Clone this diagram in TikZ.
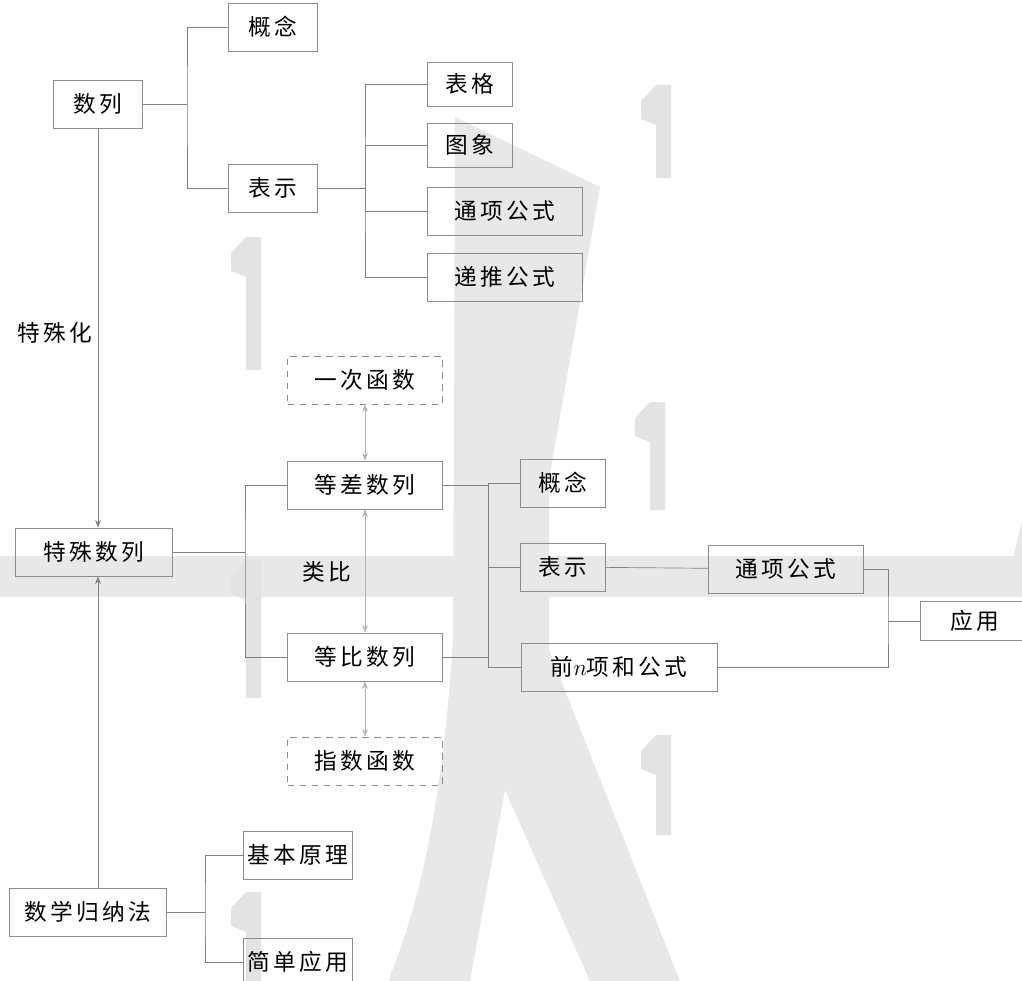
\documentclass[tikz,border=0pt]{standalone}
\usepackage{fontspec}
\newfontfamily\cjk[LetterSpace=14]{Noto Sans CJK SC}
\usetikzlibrary{arrows.meta,positioning,backgrounds}

\begin{document}
\begin{tikzpicture}[
  x=0.75pt, y=-0.75pt,
  font=\cjk\fontsize{17}{20}\selectfont,
  box/.style={
    draw=black!45,
    line width=0.5pt,
    inner sep=0pt,
    minimum width=67pt,
    minimum height=36pt
  },
  wide/.style={box, minimum width=116pt},
  fbox/.style={wide, dash pattern=on 5pt off 4pt},
  link/.style={draw=black!50, line width=0.5pt},
  into/.style={link, -{Stealth[length=2mm]}},
  both/.style={link, draw=black!30, {Stealth[length=2mm]}-{Stealth[length=2mm]}},
  shade/.style={fill=black!9, draw=none}
]
\useasboundingbox (0,0) rectangle (1022,981);

% upper tree
\node[box] (shulie) at (98,104) {数列};
\node[box] (gainian) at (273,27) {概念};
\node[box] (biaoshi) at (273,188) {表示};
\node[box, minimum width=64pt, minimum height=33pt] (biaoge) at (470,84) {表格};
\node[box, minimum width=64pt, minimum height=33pt] (tuxiang) at (470,145) {图象};
\node[wide] (tongxiang) at (505,211) {通项公式};
\node[wide] (ditui) at (505,277) {递推公式};

\node (tsh) at (55,333) {特殊化};

% middle tree
\node[box, minimum width=118pt] (teshu) at (94,552) {特殊数列};
\node[fbox] (yici) at (365,380) {一次函数};
\node[wide] (dengcha) at (365,485) {等差数列};
\node[wide] (dengbi) at (365,657) {等比数列};
\node[fbox] (zhishu) at (365,761) {指数函数};
\node (leibi) at (327,572) {类比};

\node[box, minimum width=64pt] (gainian2) at (563,483) {概念};
\node[box, minimum width=64pt] (biaoshi2) at (563,567) {表示};
\node[box, minimum width=147pt] (qiann) at (619,667) {前$n$项和公式};
\node[wide] (tongxiang2) at (786,569) {通项公式};
\node[box, minimum width=82pt, minimum height=29pt] (yingyong) at (975,621) {应用};

% lower tree
\node[box, minimum width=118pt] (guina) at (88,912) {数学归纳法};
\node[box, minimum width=82pt] (jiben) at (298,855) {基本原理};
\node[box, minimum width=82pt] (jiandan) at (298,962) {简单应用};

\coordinate (s1) at (187,104);
\coordinate (s2) at (365,188);
\coordinate (s3) at (245,552);
\coordinate (s4) at (488,567);
\coordinate (s5) at (888,621);
\coordinate (s6) at (205,912);

\draw[link] (shulie.east) -- (s1);
\draw[link] (gainian.west) -| (s1) |- (biaoshi.west);
\draw[link] (biaoshi.east) -- (s2);
\draw[link] (biaoge.west) -| (s2) |- (ditui.west);
\draw[link] (tuxiang.west) -| (s2);
\draw[link] (tongxiang.west) -| (s2);

\draw[into] (shulie.south) -- (shulie.south |- teshu.north);
\draw[into] (shulie.south |- guina.north) -- (shulie.south |- teshu.south);

\draw[link] (teshu.east) -- (s3);
\draw[link] (dengcha.west) -| (s3) |- (dengbi.west);
\draw[both] (dengcha) -- (yici);
\draw[both] (dengcha) -- (dengbi);
\draw[both] (dengbi) -- (zhishu);

\draw[link] (dengcha.east) -| (s4) |- (dengbi.east);
\draw[link] (gainian2.west) -| (s4);
\draw[link] (biaoshi2.west) -- (s4);
\draw[link] (qiann.west) -| (s4);
\draw[link] (biaoshi2) -- (tongxiang2);
\draw[link] (tongxiang2.east) -| (s5) |- (qiann.east);
\draw[link] (s5) -- (yingyong);

\draw[link] (guina.east) -- (s6);
\draw[link] (jiben.west) -| (s6) |- (jiandan.west);

\begin{scope}[on background layer]
  \fill[shade] (0,556) rectangle (1022,597);
  \fill[shade] (1004,597) -- (1022,520) -- (1022,597) -- cycle;
  \fill[shade] (455,117) -- (600,187) -- (549,480) -- (549,650) -- (680,981)
    -- (590,981) -- (505,790) -- (470,981) -- (388,981)
    .. controls (430,880) and (445,760) .. (453,640) -- cycle;
  \foreach \bx/\by/\bh in {246/237/133, 246/560/138, 246/892/89,
                           656/85/93, 650/402/108, 656/735/100}
    \fill[shade, fill=black!11] (\bx,\by) -- ++(15,0) -- ++(0,\bh) -- ++(-15,0)
      -- ++(0,{40-\bh}) -- ++(-15,-6) -- ++(0,-18) -- cycle;
\end{scope}

\end{tikzpicture}
\end{document}
